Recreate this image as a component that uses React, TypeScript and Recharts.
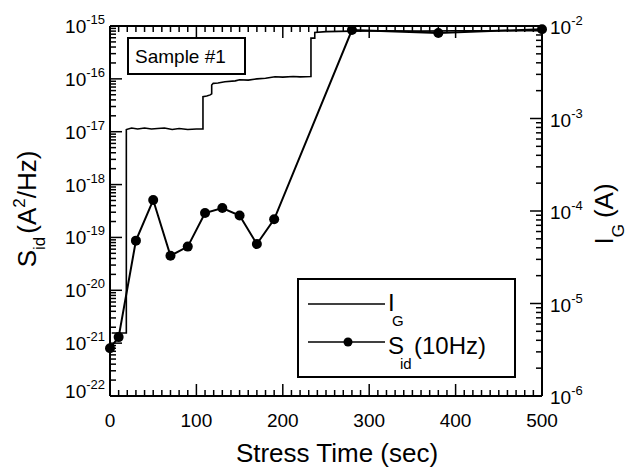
import React from "react";
import { ComposedChart, Line, XAxis, YAxis, Legend } from "recharts";

const FONT = "Liberation Sans, Arial, sans-serif";
const txt = { fontFamily: FONT };

// S_id at 10 Hz, one point per measurement
const sidTime = [0, 10, 30, 50, 70, 90, 110, 130, 150, 170, 190, 280, 380, 500];
const sidValue = [
  8e-22, 1.3e-21, 8.7e-20, 5.1e-19, 4.5e-20, 6.7e-20, 2.9e-19, 3.6e-19, 2.6e-19, 7.5e-20, 2.2e-19,
  8.4e-16, 7.4e-16, 8.7e-16,
];

const igTime = [
  2, 18.9, 18.9, 25, 32, 40, 48, 55, 63, 72, 80, 90, 100, 107.6, 107.6, 112, 116, 117.7, 117.7, 119.5,
  125, 133, 145, 150, 160, 170, 180, 191, 200, 212, 220, 232.6, 232.6, 237, 237, 250, 280, 320, 360,
  400, 450, 500,
];
const igValue = [
  4.8e-6, 4.8e-6, 7.6e-4, 7.9e-4, 7.7e-4, 7.9e-4, 7.7e-4, 7.8e-4, 7.9e-4, 7.6e-4, 7.8e-4, 7.6e-4,
  7.7e-4, 7.7e-4, 1.72e-3, 1.75e-3, 1.8e-3, 1.85e-3, 2.3e-3, 2.4e-3, 2.42e-3, 2.5e-3, 2.55e-3,
  2.62e-3, 2.6e-3, 2.68e-3, 2.72e-3, 2.83e-3, 2.8e-3, 2.85e-3, 2.82e-3, 2.85e-3, 7.4e-3, 7.4e-3,
  8.5e-3, 8.7e-3, 8.8e-3, 8.9e-3, 8.8e-3, 8.9e-3, 8.9e-3, 8.9e-3,
];

const xMajorTicks = [0, 100, 200, 300, 400, 500];
const leftDecades = [-22, -21, -20, -19, -18, -17, -16, -15];
const rightDecades = [-6, -5, -4, -3, -2];

const sidData = sidTime.map((t, i) => ({ t, sid: sidValue[i] }));
const igData = igTime.map((t, i) => ({ t, ig: igValue[i] }));

const xTicks = xMajorTicks.flatMap((m, i) =>
  i === xMajorTicks.length - 1 ? [m] : Array.from({ length: 10 }, (_, k) => m + k * 10)
);
const logTicks = (decades: number[]) =>
  decades.flatMap((d, i) =>
    i === decades.length - 1
      ? [Number(`1e${d}`)]
      : [1, 2, 3, 4, 5, 6, 7, 8, 9].map((k) => Number(`${k}e${d}`))
  );

const isMajorLog = (v: number) => Math.abs(Math.log10(v) - Math.round(Math.log10(v))) < 1e-6;

const LeftTick = ({ x, y, payload }: any) => {
  const v = payload.value;
  const major = isMajorLog(v);
  const exp = Math.round(Math.log10(v));
  const shift = exp === -22 ? -5 : 0;
  return (
    <g>
      <line x1={x} x2={x + (major ? 12 : 6)} y1={y} y2={y} stroke="#000" strokeWidth={1.5} />
      {major && (
        <text x={x - 5} y={y + 7 + shift} textAnchor="end" style={txt} fontSize={19} fill="#000">
          10<tspan dy={-9} fontSize={13}>{exp}</tspan>
        </text>
      )}
    </g>
  );
};

const RightTick = ({ x, y, payload }: any) => {
  const v = payload.value;
  const major = isMajorLog(v);
  const exp = Math.round(Math.log10(v));
  return (
    <g>
      <line x1={x} x2={x - (major ? 12 : 6)} y1={y} y2={y} stroke="#000" strokeWidth={1.5} />
      {major && (
        <text x={x + 8} y={y + 8} textAnchor="start" style={txt} fontSize={19} fill="#000">
          10<tspan dy={-9} fontSize={13}>{exp}</tspan>
        </text>
      )}
    </g>
  );
};

const BottomTick = ({ x, y, payload }: any) => {
  const major = payload.value % 100 === 0;
  return (
    <g>
      <line x1={x} x2={x} y1={y} y2={y - (major ? 12 : 6)} stroke="#000" strokeWidth={1.5} />
      {major && (
        <text x={x} y={y + 31} textAnchor="middle" style={txt} fontSize={19} fill="#000">
          {payload.value}
        </text>
      )}
    </g>
  );
};

const TopTick = ({ x, y, payload }: any) => {
  const major = payload.value % 100 === 0;
  return <line x1={x} x2={x} y1={y} y2={y + (major ? 12 : 6)} stroke="#000" strokeWidth={1.5} />;
};

const LeftTitle = () => (
  <text
    transform="translate(36,209) rotate(-90)"
    textAnchor="middle"
    style={txt}
    fontSize={26}
    fill="#000"
  >
    S<tspan dy={9} fontSize={17}>id</tspan>
    <tspan dy={-9} dx={3}>(A</tspan>
    <tspan dy={-11} fontSize={17}>2</tspan>
    <tspan dy={11}>/Hz)</tspan>
  </text>
);

const RightTitle = () => (
  <text
    transform="translate(613,214) rotate(-90)"
    textAnchor="middle"
    style={txt}
    fontSize={26}
    fill="#000"
  >
    I<tspan dy={11} fontSize={17}>G</tspan>
    <tspan dy={-11} dx={6}>(A)</tspan>
  </text>
);

const BottomTitle = () => (
  <text x={337} y={462} textAnchor="middle" style={txt} fontSize={26} fill="#000">
    Stress Time (sec)
  </text>
);

const LegendBox = () => (
  <svg width={219} height={100} style={{ display: "block" }}>
    <rect x={1} y={1} width={217} height={98} fill="#fff" stroke="#000" strokeWidth={2} />
    <line x1={11} x2={88} y1={26} y2={26} stroke="#000" strokeWidth={1.5} />
    <text x={91} y={33} style={txt} fontSize={24} fill="#000">
      I<tspan x={95} dy={15} fontSize={15}>G</tspan>
    </text>
    <line x1={11} x2={88} y1={64} y2={64} stroke="#000" strokeWidth={1.5} />
    <circle cx={51} cy={64} r={4.5} fill="#000" />
    <text x={91} y={76} style={txt} fontSize={24} fill="#000">
      S<tspan x={103} dy={15} fontSize={15}>id</tspan>
      <tspan x={117} dy={-15}>(10Hz)</tspan>
    </text>
  </svg>
);

export default function App() {
  return (
    <div style={{ position: "absolute", left: 0, top: 0, width: 629, height: 470, background: "#fff" }}>
      <ComposedChart width={629} height={470} margin={{ top: 16, right: 27, bottom: 34, left: 50 }}>
        <XAxis
          xAxisId="bottom"
          dataKey="t"
          type="number"
          domain={[0, 500]}
          ticks={xTicks}
          interval={0}
          tick={<BottomTick />}
          tickLine={false}
          tickSize={0}
          tickMargin={0}
          height={40}
          axisLine={{ stroke: "#000", strokeWidth: 2 }}
          label={<BottomTitle />}
        />
        <XAxis
          xAxisId="top"
          orientation="top"
          dataKey="t"
          type="number"
          domain={[0, 500]}
          ticks={xTicks}
          interval={0}
          tick={<TopTick />}
          tickLine={false}
          tickSize={0}
          tickMargin={0}
          height={10}
          axisLine={{ stroke: "#000", strokeWidth: 2 }}
        />
        <YAxis
          yAxisId="left"
          type="number"
          scale="log"
          domain={[1e-22, 1e-15]}
          ticks={logTicks(leftDecades)}
          interval={0}
          tick={<LeftTick />}
          tickLine={false}
          tickSize={0}
          tickMargin={0}
          width={60}
          axisLine={{ stroke: "#000", strokeWidth: 2 }}
          label={<LeftTitle />}
        />
        <YAxis
          yAxisId="right"
          orientation="right"
          type="number"
          scale="log"
          domain={[1e-6, 1e-2]}
          ticks={logTicks(rightDecades)}
          interval={0}
          tick={<RightTick />}
          tickLine={false}
          tickSize={0}
          tickMargin={0}
          width={60}
          axisLine={{ stroke: "#000", strokeWidth: 2 }}
          label={<RightTitle />}
        />
        <Line
          data={igData}
          xAxisId="top"
          yAxisId="right"
          dataKey="ig"
          name="I_G"
          type="linear"
          stroke="#000"
          strokeWidth={1.6}
          dot={false}
          isAnimationActive={false}
        />
        <Line
          data={sidData}
          xAxisId="bottom"
          yAxisId="left"
          dataKey="sid"
          name="S_id (10Hz)"
          type="linear"
          stroke="#000"
          strokeWidth={2}
          dot={{ r: 5, fill: "#000", stroke: "#000", strokeWidth: 0 }}
          isAnimationActive={false}
        />
        <Legend
          layout="vertical"
          align="center"
          verticalAlign="middle"
          content={<LegendBox />}
          wrapperStyle={{ position: "absolute", left: 297, top: 278, width: 219, height: 100 }}
        />
      </ComposedChart>
      <svg
        width={629}
        height={470}
        style={{ position: "absolute", left: 0, top: 0, pointerEvents: "none" }}
      >
        <rect x={128} y={38} width={117} height={36} fill="#fff" stroke="#000" strokeWidth={2} />
        <text x={135} y={63} style={txt} fontSize={19} fill="#000">
          Sample #1
        </text>
      </svg>
    </div>
  );
}
